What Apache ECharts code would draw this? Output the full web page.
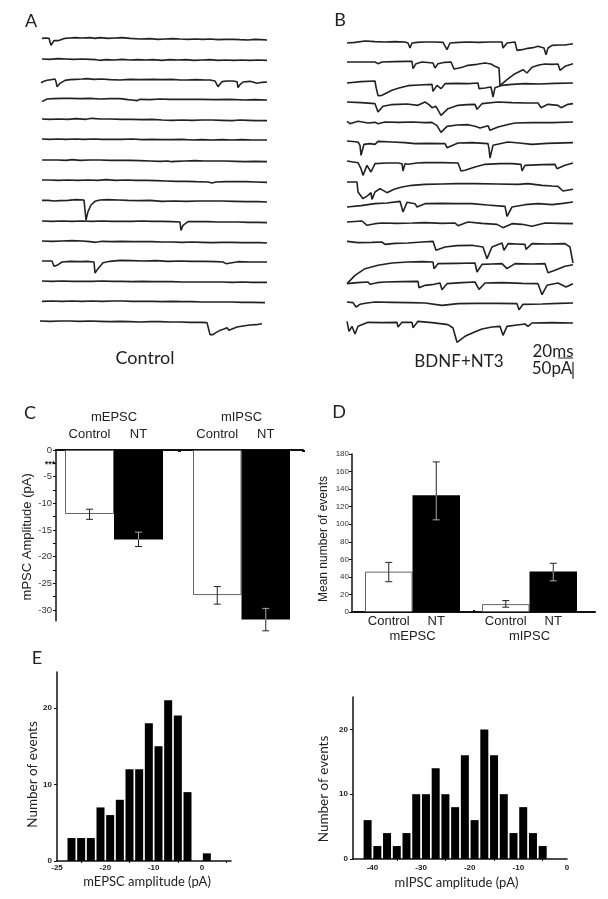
<!DOCTYPE html>
<html>
<head>
<meta charset="utf-8">
<style>
  html, body { margin: 0; padding: 0; background: #fff; }
  #chart { width: 608px; height: 899px; }
</style>
<script src="https://cdn.jsdelivr.net/npm/echarts@6/dist/echarts.min.js"></script>
</head>
<body>
<div id="chart"></div>
<script>
// traces: [sample, deflection in pA], one sample is about 0.75 ms
const tracesControl = [
  [[2,-1],[6,0],[9,-1],[10,-6],[11,-22],[12,-20],[14,-8],[16,-9],[18,-8],[20,-4],[25,-1],[30,0],[35,1],[42,0],[50,1],[55,-1],[60,1],[68,-1],[75,0],[82,1],[90,-1],[92,-4],[100,-3],[110,-2],[118,-4],[125,-3],[133,-2],[140,-3],[148,-4],[155,-3],[163,-4],[170,-3],[178,-5],[185,-4],[193,-4],[200,-5],[208,-6],[215,-4],[221,-5],[227,-6]],
  [[2,0],[10,-1],[18,1],[26,0],[34,-1],[42,0],[50,-1],[56,-2],[60,-4],[66,-2],[74,-3],[82,-1],[90,-3],[98,-2],[106,-3],[113,-2],[115,-5],[122,-4],[130,-2],[138,-3],[146,-2],[154,-4],[162,-3],[170,-2],[178,-4],[186,-3],[194,-4],[202,-3],[210,-4],[218,-3],[227,-4]],
  [[1,-8],[4,-4],[7,-1],[11,1],[15,3],[16,-5],[17,-20],[18,-18],[20,-10],[22,-7],[25,-1],[30,1],[36,2],[42,3],[47,4],[54,2],[62,3],[70,1],[80,0],[90,2],[100,1],[113,2],[122,1],[132,2],[140,0],[147,0],[156,1],[165,0],[170,0],[175,-3],[177,-5],[178,-20],[180,-12],[182,-5],[187,-3],[193,-3],[197,-5],[198,-23],[200,-14],[203,-6],[210,-4],[217,-10],[222,-7],[227,-6]],
  [[2,-8],[4,-3],[7,0],[14,1],[22,2],[30,2],[40,1],[50,2],[60,0],[70,1],[80,1],[88,-2],[92,-3],[97,-5],[100,-1],[110,-2],[120,0],[130,-1],[147,-1],[160,-1],[175,-2],[190,-1],[205,-3],[215,-2],[227,-3]],
  [[2,0],[10,-1],[18,0],[28,-1],[36,1],[46,-1],[52,2],[60,0],[70,0],[82,-1],[92,-1],[102,-2],[112,-1],[122,-3],[132,-4],[142,-3],[152,-4],[162,-3],[172,-3],[182,-4],[192,-5],[200,-3],[208,-4],[216,-5],[227,-5]],
  [[2,0],[10,-1],[18,0],[26,-1],[35,0],[44,-1],[54,0],[62,-1],[72,-1],[82,-1],[92,0],[102,-2],[112,-1],[122,-2],[132,-2],[142,-1],[152,-3],[162,-2],[172,-3],[182,-2],[192,-3],[202,-2],[212,-3],[227,-3]],
  [[2,0],[10,0],[18,0],[26,-1],[32,1],[40,-1],[50,0],[60,0],[70,-1],[80,-1],[90,-1],[100,-2],[110,-3],[120,-4],[128,-3],[131,-5],[133,-9],[136,-4],[145,-3],[155,-2],[165,-3],[175,-3],[185,-3],[195,-4],[205,-5],[215,-4],[227,-5]],
  [[2,0],[10,0],[18,-1],[28,0],[38,-1],[48,0],[58,-1],[66,1],[76,-1],[86,0],[96,-1],[106,-1],[116,-2],[126,-3],[136,-4],[146,-4],[156,-5],[168,-6],[172,-9],[176,-6],[186,-5],[196,-5],[206,-5],[216,-6],[227,-7]],
  [[2,-1],[8,-1],[14,-3],[20,-2],[28,-1],[30,2],[36,1],[44,0],[45,-30],[46,-60],[47,-60],[48,-35],[51,-15],[55,-4],[60,0],[68,1],[78,0],[88,-1],[100,-2],[110,-1],[122,-4],[134,-3],[146,-4],[158,-3],[170,-3],[182,-3],[194,-4],[206,-5],[218,-5],[227,-6]],
  [[2,0],[12,-1],[22,0],[32,-1],[42,0],[52,-1],[62,0],[72,-1],[82,-1],[92,-1],[102,0],[112,-1],[122,-1],[132,-2],[140,-3],[141,-28],[143,-13],[148,-2],[158,-2],[168,-2],[178,-3],[188,-3],[198,-3],[208,-4],[218,-4],[227,-5]],
  [[2,0],[12,-1],[22,0],[32,1],[42,0],[50,-2],[56,-4],[62,-1],[72,-2],[82,-1],[92,-2],[102,-2],[112,-2],[122,-3],[132,-3],[142,-4],[152,-3],[162,-4],[172,-5],[182,-4],[192,-4],[202,-5],[212,-5],[220,-5],[227,-6]],
  [[2,0],[8,0],[12,0],[14,-16],[17,-13],[22,-3],[30,-1],[40,-2],[47,-1],[54,-3],[55,-36],[58,-23],[63,-5],[70,-1],[80,2],[92,1],[104,0],[116,1],[128,-1],[140,0],[152,-1],[164,-1],[176,-2],[183,-3],[186,-8],[188,-3],[198,-2],[210,-3],[227,-3]],
  [[2,0],[12,-1],[22,0],[32,-1],[42,-1],[52,-1],[62,0],[72,-1],[82,-1],[92,-2],[102,-1],[112,-2],[122,-2],[132,-2],[142,-3],[152,-3],[162,-3],[172,-3],[182,-3],[192,-4],[202,-3],[212,-4],[227,-4]],
  [[2,-1],[12,0],[22,-1],[32,0],[42,-1],[52,0],[62,-1],[72,0],[82,0],[92,-1],[102,-1],[112,-1],[122,-2],[132,-1],[142,-2],[152,-2],[162,-3],[172,-3],[182,-3],[192,-3],[202,-4],[212,-4],[225,-5]],
  [[0,0],[10,-1],[20,0],[30,0],[40,-1],[50,0],[60,-1],[70,-2],[80,-1],[90,-2],[100,-3],[110,-2],[120,-2],[130,-3],[140,-3],[150,-4],[160,-4],[167,-5],[168,-8],[170,-41],[173,-41],[176,-35],[180,-28],[184,-24],[187,-20],[189,-28],[192,-24],[197,-18],[203,-15],[210,-12],[216,-11],[222,-8]]
];
const tracesNT = [
  [[0,-3],[8,-1],[18,3],[28,1],[38,0],[48,1],[58,0],[61,-3],[63,-18],[65,-3],[70,-1],[78,0],[88,0],[96,-1],[98,-1],[100,-23],[103,-3],[112,-1],[122,0],[132,-1],[142,0],[155,0],[156,-18],[160,-3],[168,0],[170,-25],[175,-23],[181,-19],[186,-17],[191,-13],[197,-18],[199,-38],[201,-18],[205,-10],[212,-9],[218,-9],[226,-5]],
  [[0,0],[14,0],[28,0],[31,-5],[35,0],[48,1],[60,2],[65,2],[66,-20],[69,-5],[75,0],[86,-3],[88,-18],[91,-5],[98,-1],[104,0],[107,-21],[111,-19],[116,-15],[121,-10],[130,-7],[138,-3],[144,-6],[148,-13],[152,-18],[153,-71],[155,-75],[160,-53],[168,-35],[176,-23],[180,-33],[185,-16],[192,-9],[198,-6],[205,-7],[211,-6],[213,-25],[218,-13],[226,-5]],
  [[0,-3],[14,1],[28,3],[29,-15],[31,-41],[35,-40],[45,-25],[52,-18],[61,-11],[72,-9],[85,-7],[86,-28],[90,-10],[94,-20],[98,-5],[110,-4],[122,-5],[131,-3],[132,-20],[138,-18],[144,-15],[146,-45],[148,-17],[155,-10],[165,-7],[178,-5],[192,-6],[208,-4],[226,-3]],
  [[0,0],[14,-2],[28,-5],[31,-30],[36,-13],[44,-8],[51,-7],[60,-6],[71,-10],[78,0],[82,-8],[85,-17],[89,-13],[94,-40],[101,-20],[111,-10],[120,-8],[128,-7],[130,-22],[135,-5],[151,0],[165,-2],[180,-3],[191,-3],[194,-17],[201,-7],[211,-10],[214,-17],[221,-7],[226,-5]],
  [[0,2],[3,-5],[11,2],[21,-3],[28,-1],[31,-5],[38,0],[52,-1],[65,0],[78,-2],[85,-1],[90,-11],[94,-31],[100,-13],[110,-9],[121,-8],[128,-13],[133,-18],[141,-11],[143,-25],[151,-15],[160,-8],[168,-3],[185,-2],[205,-2],[226,0]],
  [[0,3],[11,0],[13,-10],[14,-40],[17,-7],[23,-5],[28,-7],[31,2],[45,0],[58,-2],[68,-5],[80,-4],[98,-5],[100,-17],[111,-3],[125,-2],[141,-5],[142,-20],[143,-48],[146,-10],[161,0],[172,-3],[185,-7],[200,-4],[226,-2]],
  [[0,3],[11,-2],[14,-20],[16,-40],[20,-10],[24,-30],[28,-5],[40,-3],[51,-3],[55,-5],[56,-27],[58,-5],[61,-7],[70,-3],[78,-2],[95,-2],[111,-3],[114,-27],[118,-25],[128,-15],[138,-7],[153,-5],[165,-5],[174,-7],[175,-27],[178,-10],[195,-8],[208,-7],[210,-20],[218,-10],[226,-3]],
  [[0,0],[10,0],[11,-30],[16,-50],[21,-40],[24,-32],[25,-52],[28,-30],[33,-20],[40,-32],[47,-22],[55,-15],[65,-10],[78,-7],[95,-6],[110,-5],[128,-5],[150,-6],[171,-7],[181,-5],[195,-10],[205,-12],[211,-13],[216,-27],[226,-22]],
  [[0,-12],[14,-8],[28,-2],[40,0],[53,5],[55,2],[56,-27],[60,2],[68,-2],[70,-12],[78,-2],[95,-1],[110,-2],[125,-2],[140,-6],[158,-10],[160,-40],[165,-12],[178,-5],[191,-2],[205,-5],[216,-1],[226,3]],
  [[0,0],[15,3],[20,-10],[28,-5],[35,-3],[50,-4],[65,-3],[78,-2],[95,-4],[108,-3],[111,-11],[121,0],[135,-4],[150,-7],[156,-17],[165,-5],[175,-7],[185,-13],[198,-3],[212,-4],[226,-5]],
  [[0,2],[11,-2],[25,-1],[35,0],[38,-7],[48,-4],[61,-3],[75,0],[86,2],[89,-25],[98,-15],[110,-11],[125,-10],[136,-15],[140,-50],[145,-15],[155,-3],[157,-25],[161,-5],[170,-6],[178,-7],[179,-22],[185,-5],[200,-6],[218,-5],[223,-15],[226,-63]],
  [[0,-65],[8,-40],[18,-20],[31,-10],[45,-3],[61,0],[75,1],[86,0],[87,-20],[91,-5],[110,-4],[128,-3],[130,-30],[135,-7],[145,-6],[155,-5],[160,-20],[168,-5],[185,-6],[198,-5],[201,-32],[208,-25],[218,-13],[226,-8]],
  [[0,-5],[10,-2],[21,0],[23,-7],[30,-2],[38,0],[55,1],[71,2],[72,-17],[78,-10],[85,-8],[93,-3],[95,-23],[100,-5],[115,-2],[128,0],[132,-22],[138,-3],[155,-2],[175,-4],[191,-5],[195,-38],[200,-10],[211,-3],[219,-15],[226,-5]],
  [[0,0],[6,-2],[9,-15],[13,-7],[20,-3],[28,0],[45,-1],[62,-2],[78,-3],[95,-10],[111,-5],[130,-4],[150,-4],[170,-5],[172,-23],[176,-7],[195,-6],[212,-4],[226,-3]],
  [[0,5],[2,-25],[5,-10],[8,-33],[11,-10],[21,2],[35,1],[50,2],[51,-12],[55,2],[65,2],[66,-14],[71,5],[85,1],[101,-5],[106,-15],[110,-58],[111,-60],[118,-40],[127,-28],[135,-18],[145,-12],[153,-10],[156,-37],[160,-10],[170,-6],[178,-3],[181,-10],[185,0],[205,1],[226,0]]
];
const scaleBarSamples = [211, 226];  // 20 ms
const scaleBarPA = [-1026, -1076];   // 50 pA

const groupNames = ['mEPSC', 'mIPSC'];
const barCategories = ['Control', 'NT'];

const ampTicks = [0, -5, -10, -15, -20, -25, -30];
const ampMEPSC = [-12, -16.8];
const ampMIPSC = [-27.2, -31.8];
const ampErrMEPSC = [[-11.1, -13], [-15.4, -18.1]];
const ampErrMIPSC = [[-25.6, -28.9], [-29.7, -33.9]];

const countMEPSC = [46, 133];
const countMIPSC = [9, 46];
const countErrMEPSC = [[34.5, 56.5], [105, 171]];
const countErrMIPSC = [[5.5, 13], [35.5, 55.5]];

// left histogram, its printed labels are not evenly scaled so the axis counts bins
const histMEPSC = [0, 3, 3, 3, 7, 6, 8, 12, 12, 18, 15, 21, 19, 9, 0, 1, 0, 0];
const histMEPSCLabels = ['-25', '-20', '-10', '0'];
const histMEPSCLabelBins = [0, 5, 10, 15];
const histMEPSCTickBins = [2.5, 7.5, 12.5, 17.5];

const histMIPSCCenters = [-41, -39, -37, -35, -33, -31, -29, -27, -25, -23, -21, -19, -17, -15, -13, -11, -9, -7, -5];
const histMIPSC = [6, 2, 4, 2, 4, 10, 10, 14, 10, 8, 16, 6, 20, 16, 10, 4, 8, 4, 2];
const histMIPSCLabels = [-40, -30, -20, -10, 0];
const histMIPSCTicks = [-35, -25, -15, -5];
const histCountTicks = [0, 10, 20];

// vertical place of each sweep on its panel, in pA below the top
const sweepOffsetsA = [54, 117, 180, 237, 297, 357, 420, 480, 540, 603, 663, 723, 783, 843, 903];
const sweepOffsetsB = [66, 126, 186, 246, 306, 366, 426, 486, 549, 606, 666, 726, 786, 846, 909];

const ink = '#222';
const sans = 'Liberation Sans';
const round = 'Lato';

function traceSeries(traces, offsets, axis) {
  return traces.map((pts, i) => ({
    type: 'line',
    xAxisIndex: axis,
    yAxisIndex: axis,
    data: pts.map(p => [p[0], p[1] - offsets[i]]),
    showSymbol: false,
    silent: true,
    lineStyle: { color: ink, width: 1.6 }
  }));
}

function barSeries(values, axis) {
  return {
    type: 'bar',
    xAxisIndex: axis,
    yAxisIndex: axis,
    barWidth: '100%',
    data: values.map((v, i) => ({
      value: v,
      itemStyle: i === 0 ? { color: '#fff', borderColor: '#666', borderWidth: 1 } : { color: '#000' }
    }))
  };
}

function errorSeries(values, errs, axis) {
  return {
    type: 'custom',
    xAxisIndex: axis,
    yAxisIndex: axis,
    z: 5,
    encode: { x: 0, y: [1, 2] },
    data: errs.map((e, i) => [i, e[0], e[1], values[i]]),
    renderItem(params, api) {
      const idx = api.value(0);
      const lo = api.value(1);
      const hi = api.value(2);
      const mean = api.value(3);
      // inner whisker sits on the black bar, so it reads light there
      const innerVal = Math.abs(lo) < Math.abs(hi) ? lo : hi;
      const outerVal = innerVal === lo ? hi : lo;
      const inner = api.coord([idx, innerVal]);
      const outer = api.coord([idx, outerVal]);
      const mid = api.coord([idx, mean]);
      const innerColor = idx === 1 ? '#aaa' : ink;
      const seg = (x1, y1, x2, y2, c) => ({
        type: 'line',
        shape: { x1, y1, x2, y2 },
        style: { stroke: c, lineWidth: 1 }
      });
      return {
        type: 'group',
        children: [
          seg(inner[0], inner[1], mid[0], mid[1], innerColor),
          seg(mid[0], mid[1], outer[0], outer[1], ink),
          seg(inner[0] - 3.5, inner[1], inner[0] + 3.5, inner[1], innerColor),
          seg(outer[0] - 3.5, outer[1], outer[0] + 3.5, outer[1], ink)
        ]
      };
    }
  };
}

function catAxis(grid, name, pos, gap) {
  return {
    type: 'category',
    gridIndex: grid,
    position: pos,
    data: barCategories,
    axisLine: { show: false },
    axisTick: { show: false },
    axisLabel: { interval: 0, margin: pos === 'top' ? 9 : 3, fontFamily: sans, fontSize: 13, color: ink },
    name: name,
    nameLocation: 'middle',
    nameGap: gap,
    nameTextStyle: { fontFamily: sans, fontSize: 13, color: ink }
  };
}

function hiddenAxis(grid, min, max) {
  return { type: 'value', gridIndex: grid, min, max, show: false };
}

function letter(text, x, y, size) {
  return {
    type: 'text', x, y,
    style: { text, font: size + 'px ' + round, fill: ink, textAlign: 'center', textVerticalAlign: 'middle' }
  };
}

const chart = echarts.init(document.getElementById('chart'), null, { renderer: 'canvas' });

chart.setOption({
  animation: false,
  backgroundColor: '#fff',
  grid: [
    { left: 40, top: 20, width: 230, height: 360 },
    { left: 347, top: 20, width: 230, height: 360 },
    { left: 56, top: 450, width: 247, height: 170.67 },
    { left: 65, top: 450, width: 98, height: 170.67 },
    { left: 193, top: 450, width: 97, height: 170.67 },
    { left: 352, top: 454, width: 243, height: 158 },
    { left: 365, top: 454, width: 95, height: 158 },
    { left: 482, top: 454, width: 95, height: 158 },
    { left: 57, top: 672, width: 174, height: 189 },
    { left: 353, top: 697, width: 214, height: 162 }
  ],
  xAxis: [
    hiddenAxis(0, 0, 230),
    hiddenAxis(1, 0, 230),
    {
      type: 'value', gridIndex: 2, min: 0, max: 1, position: 'top',
      splitLine: { show: false },
      axisLabel: { show: false },
      axisLine: { onZero: false, lineStyle: { color: '#111', width: 2 } },
      axisTick: { customValues: [0.5, 1], length: 2, inside: true, lineStyle: { color: '#111', width: 3 } }
    },
    catAxis(3, groupNames[0], 'top', 26),
    catAxis(4, groupNames[1], 'top', 26),
    {
      type: 'value', gridIndex: 5, min: 0, max: 1,
      splitLine: { show: false },
      axisLabel: { show: false },
      axisLine: { onZero: false, lineStyle: { color: '#111', width: 2 } },
      axisTick: { customValues: [0.5], length: 2, inside: true, lineStyle: { color: '#111', width: 2 } }
    },
    catAxis(6, groupNames[0], 'bottom', 18),
    catAxis(7, groupNames[1], 'bottom', 18),
    {
      type: 'value', gridIndex: 8, min: 0, max: 18,
      splitLine: { show: false },
      axisLine: { onZero: false, lineStyle: { color: '#111', width: 1.5 } },
      axisTick: { customValues: histMEPSCTickBins, length: 2, lineStyle: { color: '#111' } },
      axisLabel: {
        customValues: histMEPSCLabelBins,
        formatter: v => histMEPSCLabels[histMEPSCLabelBins.indexOf(v)],
        margin: 3, fontFamily: sans, fontSize: 8, fontWeight: 'bold', color: ink
      },
      name: 'mEPSC amplitude (pA)',
      nameLocation: 'middle',
      nameGap: 14,
      nameTextStyle: { fontFamily: round, fontSize: 13, color: ink, padding: [0, 0, 0, 6] }
    },
    {
      type: 'value', gridIndex: 9, min: -44, max: 0,
      splitLine: { show: false },
      axisLine: { onZero: false, lineStyle: { color: '#111', width: 1.5 } },
      axisTick: { customValues: histMIPSCTicks, length: 2, lineStyle: { color: '#111' } },
      axisLabel: {
        customValues: histMIPSCLabels,
        margin: 5, fontFamily: sans, fontSize: 8, fontWeight: 'bold', color: ink
      },
      name: 'mIPSC amplitude (pA)',
      nameLocation: 'middle',
      nameGap: 17,
      nameTextStyle: { fontFamily: round, fontSize: 13, color: ink, padding: [0, 7, 0, 0] }
    }
  ],
  yAxis: [
    hiddenAxis(0, -1080, 0),
    hiddenAxis(1, -1080, 0),
    {
      type: 'value', gridIndex: 2, min: -32, max: 0,
      splitLine: { show: false },
      axisLine: { onZero: false, lineStyle: { color: '#111', width: 1.5 } },
      axisTick: { customValues: [0, -2.5, -5, -7.5, -10, -12.5, -15, -17.5, -20, -22.5, -25, -27.5, -30], length: 3, lineStyle: { color: '#111' } },
      axisLabel: { customValues: ampTicks, margin: 4, fontFamily: sans, fontSize: 9.5, color: '#333' },
      name: 'mPSC Amplitude (pA)',
      nameLocation: 'middle',
      nameGap: 13,
      nameTextStyle: { fontFamily: sans, fontSize: 13, color: ink, padding: [0, 3, 0, 0] }
    },
    hiddenAxis(3, -32, 0),
    hiddenAxis(4, -32, 0),
    {
      type: 'value', gridIndex: 5, min: 0, max: 180, interval: 20,
      splitLine: { show: false },
      axisLine: { onZero: false, lineStyle: { color: '#111', width: 1.5 } },
      axisTick: { length: 3, lineStyle: { color: '#111' } },
      axisLabel: { margin: 3, fontFamily: sans, fontSize: 8, color: '#333' },
      name: 'Mean number of events',
      nameLocation: 'middle',
      nameGap: 22,
      nameTextStyle: { fontFamily: sans, fontSize: 12, color: ink, padding: [0, 12, 0, 0] }
    },
    hiddenAxis(6, 0, 180),
    hiddenAxis(7, 0, 180),
    {
      type: 'value', gridIndex: 8, min: 0, max: 24.7,
      splitLine: { show: false },
      axisLine: { onZero: false, lineStyle: { color: '#111', width: 1.5 } },
      axisTick: { customValues: histCountTicks, length: 3, lineStyle: { color: '#111' } },
      axisLabel: { customValues: histCountTicks, margin: 5, fontFamily: sans, fontSize: 8, fontWeight: 'bold', color: ink },
      name: 'Number of events',
      nameLocation: 'middle',
      nameGap: 3,
      nameTextStyle: { fontFamily: round, fontSize: 13.5, color: ink, padding: [0, 16, 0, 0] }
    },
    {
      type: 'value', gridIndex: 9, min: 0, max: 25,
      splitLine: { show: false },
      axisLine: { onZero: false, lineStyle: { color: '#111', width: 1.5 } },
      axisTick: { customValues: histCountTicks, length: 3, lineStyle: { color: '#111' } },
      axisLabel: { customValues: histCountTicks, margin: 5, fontFamily: sans, fontSize: 8, fontWeight: 'bold', color: ink },
      name: 'Number of events',
      nameLocation: 'middle',
      nameGap: 22,
      nameTextStyle: { fontFamily: round, fontSize: 13.5, color: ink, padding: [0, 22, 0, 0] }
    }
  ],
  series: [
    ...traceSeries(tracesControl, sweepOffsetsA, 0),
    ...traceSeries(tracesNT, sweepOffsetsB, 1),
    {
      type: 'line', xAxisIndex: 1, yAxisIndex: 1, showSymbol: false, silent: true,
      lineStyle: { color: ink, width: 1.2 },
      data: [[scaleBarSamples[0], -1014], [scaleBarSamples[1], -1014]]
    },
    {
      type: 'line', xAxisIndex: 1, yAxisIndex: 1, showSymbol: false, silent: true,
      lineStyle: { color: ink, width: 1.2 },
      data: [[scaleBarSamples[1], scaleBarPA[0]], [scaleBarSamples[1], scaleBarPA[1]]]
    },
    barSeries(ampMEPSC, 3),
    errorSeries(ampMEPSC, ampErrMEPSC, 3),
    barSeries(ampMIPSC, 4),
    errorSeries(ampMIPSC, ampErrMIPSC, 4),
    barSeries(countMEPSC, 6),
    errorSeries(countMEPSC, countErrMEPSC, 6),
    barSeries(countMIPSC, 7),
    errorSeries(countMIPSC, countErrMIPSC, 7),
    {
      type: 'bar', xAxisIndex: 8, yAxisIndex: 8, barWidth: 8,
      itemStyle: { color: '#000' },
      data: histMEPSC.map((c, i) => [i + 0.5, c])
    },
    {
      type: 'bar', xAxisIndex: 9, yAxisIndex: 9, barWidth: 8,
      itemStyle: { color: '#000' },
      data: histMIPSC.map((c, i) => [histMIPSCCenters[i], c])
    }
  ],
  graphic: [
    letter('A', 31, 21, 18),
    letter('B', 340, 20, 18),
    letter('C', 30, 413, 18),
    letter('D', 339, 412, 18),
    letter('E', 37, 658, 18),
    letter('Control', 145, 358, 18),
    letter('BDNF+NT3', 459, 362, 17),
    letter('20ms', 553, 352, 17),
    letter('50pA', 552, 369, 17),
    { type: 'text', x: 50, y: 465, style: { text: '***', font: 'bold 9px ' + sans, fill: ink, textAlign: 'center', textVerticalAlign: 'middle' } }
  ]
});
</script>
</body>
</html>
